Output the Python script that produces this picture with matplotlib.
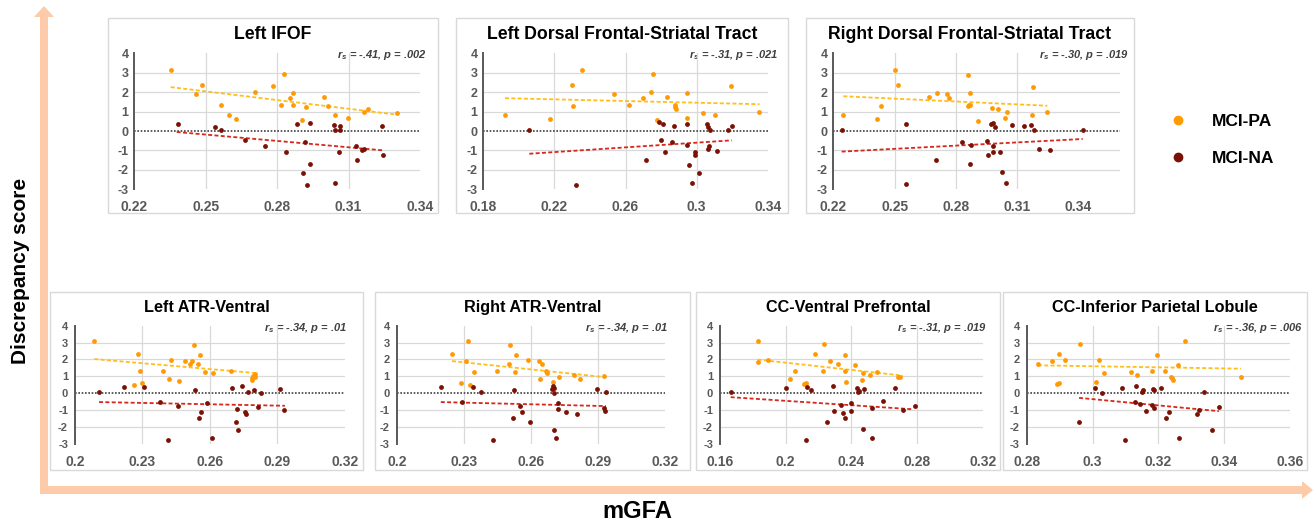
import matplotlib
matplotlib.use('Agg')
import matplotlib.pyplot as plt
from matplotlib.patches import Rectangle, Polygon
from matplotlib.lines import Line2D

plt.rcParams['font.family'] = ['Liberation Sans', 'DejaVu Sans']
plt.rcParams['font.weight'] = 'bold'
plt.rcParams['mathtext.fontset'] = 'custom'
plt.rcParams['mathtext.it'] = 'Liberation Sans:italic:bold'
plt.rcParams['mathtext.rm'] = 'Liberation Sans:bold'
plt.rcParams['mathtext.bf'] = 'Liberation Sans:bold'

W, H = 1315, 526

# ---------------- data ----------------
titles = ["Left IFOF", "Left Dorsal Frontal-Striatal Tract", "Right Dorsal Frontal-Striatal Tract",
          "Left ATR-Ventral", "Right ATR-Ventral", "CC-Ventral Prefrontal", "CC-Inferior Parietal Lobule"]
rs_vals = ["-.41", "-.31", "-.30", "-.34", "-.34", "-.31", "-.36"]
p_vals = [".002", ".021", ".019", ".01", ".01", ".019", ".006"]

xlims = [(0.22, 0.34), (0.18, 0.34), (0.22, 0.36), (0.20, 0.32), (0.20, 0.32), (0.16, 0.32), (0.28, 0.36)]
xticks = [[0.22, 0.25, 0.28, 0.31, 0.34],
          [0.18, 0.22, 0.26, 0.30, 0.34],
          [0.22, 0.25, 0.28, 0.31, 0.34],
          [0.20, 0.23, 0.26, 0.29, 0.32],
          [0.20, 0.23, 0.26, 0.29, 0.32],
          [0.16, 0.20, 0.24, 0.28, 0.32],
          [0.28, 0.30, 0.32, 0.34, 0.36]]
yticks = [-3, -2, -1, 0, 1, 2, 3, 4]

# Left IFOF
p1_pa_x = [0.2353, 0.246, 0.2484, 0.2564, 0.2599, 0.2628, 0.2705, 0.2781, 0.2816, 0.2830, 0.2853, 0.2867, 0.2867,
           0.2903, 0.2920, 0.2997, 0.3014, 0.3044, 0.3096, 0.3166, 0.3180, 0.3305]
p1_pa_y = [3.14, 1.93, 2.36, 1.33, 0.84, 0.62, 2.02, 2.31, 1.33, 2.91, 1.71, 1.97, 1.33, 0.55, 1.24, 1.76, 1.28, 0.81,
           0.69, 0.98, 1.12, 0.95]
p1_na_x = [0.2384, 0.2541, 0.2566, 0.2665, 0.2748, 0.2839, 0.2885, 0.2909, 0.2917, 0.2926, 0.2937, 0.2940, 0.3038,
           0.3041, 0.3045, 0.3058, 0.3062, 0.3063, 0.3132, 0.3135, 0.3155, 0.3164, 0.3242, 0.3244]
p1_na_y = [0.34, 0.21, 0.07, -0.48, -0.76, -1.07, 0.38, -2.16, -0.59, -2.76, 0.41, -1.72, 0.31, -2.66, 0.03, -1.07,
           0.24, 0.07, -0.79, -1.48, -1.00, -0.93, 0.28, -1.21]
p1_pa_fit = ([0.2353, 0.3291], [2.26, 0.86])
p1_na_fit = ([0.2378, 0.3249], [-0.05, -1.00])

# Left Dorsal Frontal-Striatal Tract
p2_pa_x = [0.1922, 0.2175, 0.2297, 0.2306, 0.2355, 0.2535, 0.2621, 0.2696, 0.2741, 0.2754, 0.2777, 0.2831, 0.2878,
           0.2880, 0.2882, 0.2946, 0.2948, 0.3038, 0.3103, 0.3191, 0.3353]
p2_pa_y = [0.84, 0.62, 2.36, 1.31, 3.14, 1.93, 1.33, 1.71, 2.02, 2.91, 0.55, 1.74, 1.33, 1.24, 1.12, 0.69, 1.97, 0.95,
           0.81, 2.31, 0.98]
p2_na_x = [0.2059, 0.2323, 0.2717, 0.2786, 0.2798, 0.2809, 0.2822, 0.2859, 0.2874, 0.2944, 0.2948, 0.2957, 0.2972,
           0.2991, 0.2993, 0.3015, 0.3060, 0.3062, 0.3066, 0.3071, 0.3075, 0.3114, 0.3178, 0.3197]
p2_na_y = [0.07, -2.76, -1.50, 0.47, -0.48, 0.34, -1.07, -0.59, 0.28, -0.74, 0.38, -1.74, -2.66, -1.07, -1.22, -2.16,
           0.34, 0.21, -0.91, -0.79, 0.07, -1.03, 0.03, 0.24]
p2_pa_fit = ([0.1922, 0.3353], [1.69, 1.38])
p2_na_fit = ([0.2059, 0.3197], [-1.17, -0.48])

# Right Dorsal Frontal-Striatal Tract
p3_pa_x = [0.2249, 0.2412, 0.2433, 0.2500, 0.2518, 0.2670, 0.2705, 0.2754, 0.2764, 0.2859, 0.2857, 0.2864, 0.2870,
           0.2869, 0.2909, 0.2978, 0.3004, 0.3040, 0.3050, 0.3173, 0.3177, 0.3247]
p3_pa_y = [0.84, 0.60, 1.31, 3.12, 2.37, 1.74, 1.98, 1.91, 1.69, 2.90, 1.28, 1.33, 1.33, 1.95, 0.53, 1.19, 1.11, 0.68,
           0.96, 0.82, 2.29, 0.99]
p3_na_x = [0.2242, 0.2555, 0.2554, 0.2702, 0.2829, 0.2872, 0.2870, 0.2953, 0.2958, 0.2971, 0.2979, 0.2982, 0.2982,
           0.2989, 0.3014, 0.3025, 0.3045, 0.3074, 0.3133, 0.3169, 0.3183, 0.3206, 0.3261, 0.3420]
p3_na_y = [0.07, 0.36, -2.75, -1.47, -0.56, -0.73, -1.71, -0.49, -1.21, 0.38, 0.41, -0.78, -1.06, 0.20, -1.08, -2.13,
           -2.65, 0.32, 0.24, 0.29, 0.07, -0.90, -0.99, 0.03]
p3_pa_fit = ([0.2249, 0.3247], [1.79, 1.30])
p3_na_fit = ([0.2241, 0.3420], [-1.06, -0.41])

# Left ATR-Ventral
p4_pa_x = [0.2086, 0.2281, 0.2289, 0.2262, 0.2299, 0.2390, 0.2418, 0.2428, 0.2462, 0.2487, 0.2510, 0.2519, 0.2530,
           0.2547, 0.2556, 0.2578, 0.2615, 0.2692, 0.2786, 0.2787, 0.2793, 0.2800, 0.2800]
p4_pa_y = [3.10, 2.33, 1.32, 0.51, 0.63, 1.31, 0.83, 1.98, 0.69, 1.90, 1.70, 1.90, 2.87, 1.72, 2.29, 1.27, 1.21, 1.32,
           0.91, 0.79, 1.03, 1.11, 0.97]
p4_na_x = [0.2107, 0.2216, 0.2305, 0.2376, 0.2412, 0.2456, 0.2532, 0.2550, 0.2561, 0.2587, 0.2607, 0.2699, 0.2716,
           0.2721, 0.2723, 0.2744, 0.2756, 0.2759, 0.2770, 0.2797, 0.2813, 0.2827, 0.2910, 0.2929]
p4_na_y = [0.08, 0.38, 0.34, -0.51, -2.79, -0.79, 0.20, -1.50, -1.09, -0.61, -2.67, 0.32, -1.72, -0.95, -2.16, 0.40,
           -1.11, -1.21, 0.06, 0.20, -0.85, 0.00, 0.26, -1.03]
p4_pa_fit = ([0.2086, 0.2804], [2.02, 1.19])
p4_na_fit = ([0.2107, 0.2933], [-0.53, -0.75])

# Right ATR-Ventral
p5_pa_x = [0.2247, 0.2287, 0.2308, 0.2320, 0.2329, 0.2344, 0.2447, 0.2502, 0.2508, 0.2530, 0.2531, 0.2588, 0.2634,
           0.2642, 0.2650, 0.2667, 0.2670, 0.2697, 0.2727, 0.2794, 0.2819, 0.2928]
p5_pa_y = [2.33, 0.61, 1.90, 3.10, 0.51, 1.28, 1.32, 1.70, 2.87, 1.24, 2.25, 1.98, 1.90, 0.81, 1.72, 1.32, 1.19, 0.67,
           0.93, 1.09, 0.81, 0.99]
p5_na_x = [0.2197, 0.2293, 0.2339, 0.2377, 0.2432, 0.2520, 0.2524, 0.2551, 0.2561, 0.2596, 0.2692, 0.2700, 0.2703,
           0.2704, 0.2704, 0.2710, 0.2722, 0.2720, 0.2758, 0.2804, 0.2896, 0.2928, 0.2929, 0.2935]
p5_na_y = [0.38, -0.51, 0.34, 0.06, -2.79, -1.50, 0.18, -0.77, -1.09, -1.72, 0.22, 0.40, 0.28, -2.17, 0.00, -2.65,
           -0.59, -0.93, -1.11, -1.23, 0.26, -0.87, -1.05, 0.06]
p5_pa_fit = ([0.2247, 0.2928], [1.90, 0.95])
p5_na_fit = ([0.2197, 0.2935], [-0.53, -0.77])

# CC-Ventral Prefrontal
p6_pa_x = [0.1831, 0.1829, 0.1890, 0.2028, 0.2057, 0.2112, 0.2124, 0.2181, 0.2225, 0.2231, 0.2268, 0.2321, 0.2359,
           0.2363, 0.2365, 0.2424, 0.2463, 0.2471, 0.2516, 0.2554, 0.2686, 0.2697]
p6_pa_y = [3.07, 1.87, 1.99, 0.81, 1.30, 0.53, 0.59, 2.34, 1.30, 2.89, 1.91, 1.71, 2.26, 1.30, 0.67, 1.67, 0.79, 1.20,
           1.08, 1.26, 0.96, 0.98]
p6_na_x = [0.1665, 0.2004, 0.2124, 0.2128, 0.2152, 0.2252, 0.2286, 0.2296, 0.2339, 0.2347, 0.2361, 0.2396, 0.2400,
           0.2435, 0.2443, 0.2447, 0.2471, 0.2476, 0.2528, 0.2524, 0.2591, 0.2668, 0.2715, 0.2786]
p6_na_y = [0.08, 0.33, -2.76, 0.37, 0.20, -1.71, 0.41, -1.06, -0.71, -1.20, -1.46, -1.04, -0.57, 0.31, 0.04, 0.10,
           -2.13, 0.26, -0.91, -2.64, -0.49, 0.30, -0.98, -0.79]
p6_pa_fit = ([0.1829, 0.2713], [1.99, 1.04])
p6_na_fit = ([0.1665, 0.2778], [-0.24, -0.96])

# CC-Inferior Parietal Lobule
p7_pa_x = [0.2834, 0.2876, 0.2892, 0.2897, 0.2899, 0.2915, 0.2963, 0.3012, 0.3020, 0.3034, 0.3117, 0.3134, 0.3181,
           0.3195, 0.3221, 0.3239, 0.3245, 0.3259, 0.3282, 0.3451, 0.3240]
p7_pa_y = [1.71, 1.88, 0.52, 0.58, 2.32, 1.94, 2.90, 0.65, 1.96, 1.17, 1.25, 1.07, 1.31, 2.28, 1.29, 0.97, 0.79, 1.65,
           3.10, 0.97, 0.87]
p7_na_x = [0.2959, 0.3009, 0.3029, 0.3091, 0.3100, 0.3128, 0.3133, 0.3144, 0.3151, 0.3153, 0.3162, 0.3182, 0.3185,
           0.3187, 0.3187, 0.3209, 0.3222, 0.3233, 0.3262, 0.3317, 0.3324, 0.3339, 0.3362, 0.3385]
p7_na_y = [-1.73, 0.32, -0.02, 0.30, -2.80, -0.54, 0.40, -0.62, 0.06, 0.16, -1.07, -0.73, 0.24, 0.18, -0.91, 0.32,
           -1.49, -1.11, -2.68, -1.25, -1.03, 0.04, -2.16, -0.83]
p7_pa_fit = ([0.2834, 0.3451], [1.65, 1.45])
p7_na_fit = ([0.2959, 0.3384], [-0.28, -1.07])

pa_x = [p1_pa_x, p2_pa_x, p3_pa_x, p4_pa_x, p5_pa_x, p6_pa_x, p7_pa_x]
pa_y = [p1_pa_y, p2_pa_y, p3_pa_y, p4_pa_y, p5_pa_y, p6_pa_y, p7_pa_y]
na_x = [p1_na_x, p2_na_x, p3_na_x, p4_na_x, p5_na_x, p6_na_x, p7_na_x]
na_y = [p1_na_y, p2_na_y, p3_na_y, p4_na_y, p5_na_y, p6_na_y, p7_na_y]
pa_fit = [p1_pa_fit, p2_pa_fit, p3_pa_fit, p4_pa_fit, p5_pa_fit, p6_pa_fit, p7_pa_fit]
na_fit = [p1_na_fit, p2_na_fit, p3_na_fit, p4_na_fit, p5_na_fit, p6_na_fit, p7_na_fit]

group_labels = ["MCI-PA", "MCI-NA"]

# ---------------- layout (pixels) ----------------
boxes = [(108, 438, 18, 213), (456, 788, 18, 213), (806, 1134, 18, 213),
         (50, 363, 292, 470), (375, 690, 292, 470), (696, 1000, 292, 470), (1003, 1307, 292, 470)]
areas = [(134.3, 420.0, 53.3, 189.3), (483.3, 767.8, 53.3, 189.3), (833.3, 1119.5, 53.3, 189.3),
         (75.0, 345.0, 325.7, 443.7), (396.7, 665.3, 325.7, 443.7), (720.0, 982.7, 325.7, 443.7),
         (1026.7, 1290.0, 325.7, 443.7)]
title_base = [39, 39, 39, 312, 312, 312, 312]
stat_right = [427, 779, 1129, 347, 668, 987, 1303]
stat_y = [55, 55, 55, 328, 328, 328, 328]

C_PA = '#FF9A05'
C_NA = '#7A1104'
C_PA_FIT = '#FFBE1A'
C_NA_FIT = '#D8261C'
GRID = '#D9D9D9'
TICK = '#595959'

fig = plt.figure(figsize=(W / 100, H / 100), dpi=100)

bg = fig.add_axes([0, 0, 1, 1], zorder=0)
bg.set_xlim(0, W)
bg.set_ylim(H, 0)
bg.axis('off')

arrow = Polygon([(40, 17), (34, 17), (44, 6), (54, 17), (48, 17), (48, 486), (1302, 486), (1302, 481),
                 (1313, 490), (1302, 499), (1302, 494), (40, 494)], closed=True, fc='#FDCBAA', ec='none')
bg.add_patch(arrow)

for (x0, x1, y0, y1) in boxes:
    bg.add_patch(Rectangle((x0, y0), x1 - x0, y1 - y0, fc='white', ec='#D9D9D9', lw=1.0))

for i in range(7):
    x0, x1, yt, yb = areas[i]
    top = i < 3
    ax = fig.add_axes([x0 / W, 1 - yb / H, (x1 - x0) / W, (yb - yt) / H], zorder=2)
    ax.set_facecolor('none')
    ax.set_xlim(*xlims[i])
    ax.set_ylim(-3, 4)
    for s in ['top', 'right', 'bottom']:
        ax.spines[s].set_visible(False)
    ax.spines['left'].set_color('#595959')
    ax.spines['left'].set_linewidth(1.4)
    ax.set_xticks(xticks[i])
    ax.set_xticklabels([f'{v:g}' for v in xticks[i]])
    ax.set_yticks(yticks)
    ax.set_yticklabels([str(v) for v in yticks])
    ax.tick_params(axis='x', length=0, pad=8, labelsize=10, labelcolor=TICK)
    ax.tick_params(axis='y', length=0, pad=4 if top else 5, labelsize=9 if top else 8, labelcolor=TICK)
    for lab in ax.get_xticklabels() + ax.get_yticklabels():
        lab.set_fontweight('bold')
    for yv in [-2, -1, 1, 2, 3]:
        ax.axhline(yv, color=GRID, lw=0.9, zorder=0)
    for xv in xticks[i][1:-1]:
        ax.axvline(xv, color=GRID, lw=0.9, zorder=0)
    ax.axhline(0, color='#404040', lw=1.2, ls=(0, (1, 1)), zorder=1)
    ax.plot(pa_fit[i][0], pa_fit[i][1], color=C_PA_FIT, lw=1.3, ls=(0, (2.2, 1.3)), zorder=2)
    ax.plot(na_fit[i][0], na_fit[i][1], color=C_NA_FIT, lw=1.3, ls=(0, (2.2, 1.3)), zorder=2)
    ax.scatter(pa_x[i], pa_y[i], s=12, color=C_PA, lw=0, zorder=3, clip_on=False)
    ax.scatter(na_x[i], na_y[i], s=12, color=C_NA, lw=0, zorder=3, clip_on=False)

    bx0, bx1, by0, by1 = boxes[i]
    bg.text((bx0 + bx1) / 2, title_base[i], titles[i], ha='center', va='baseline',
            fontsize=12.7 if top else 11.7, fontweight='bold', color='black')
    bg.text(stat_right[i], stat_y[i], r'$r_s$' + f' = {rs_vals[i]}, ' + r'$p$' + f' = {p_vals[i]}',
            ha='right', va='center', fontsize=8, fontweight='bold', fontstyle='italic', color='#404040')

handles = [Line2D([], [], ls='none', marker='o', ms=6, color=C_PA),
           Line2D([], [], ls='none', marker='o', ms=6, color=C_NA)]
fig.legend(handles, group_labels, loc='upper left', bbox_to_anchor=(1154 / W, 1 - 98 / H), frameon=False,
           prop={'family': 'Liberation Sans', 'weight': 'bold', 'size': 12.5}, handlelength=1.0,
           handletextpad=1.45, labelspacing=1.25, borderpad=0.4)

bg.text(21, 271, 'Discrepancy score', rotation=90, ha='center', va='center', fontsize=15,
        fontweight='bold', color='black')
bg.text(637, 512, 'mGFA', ha='center', va='center', fontsize=17, fontweight='bold', color='black')

fig.savefig('out.png', dpi=100)
